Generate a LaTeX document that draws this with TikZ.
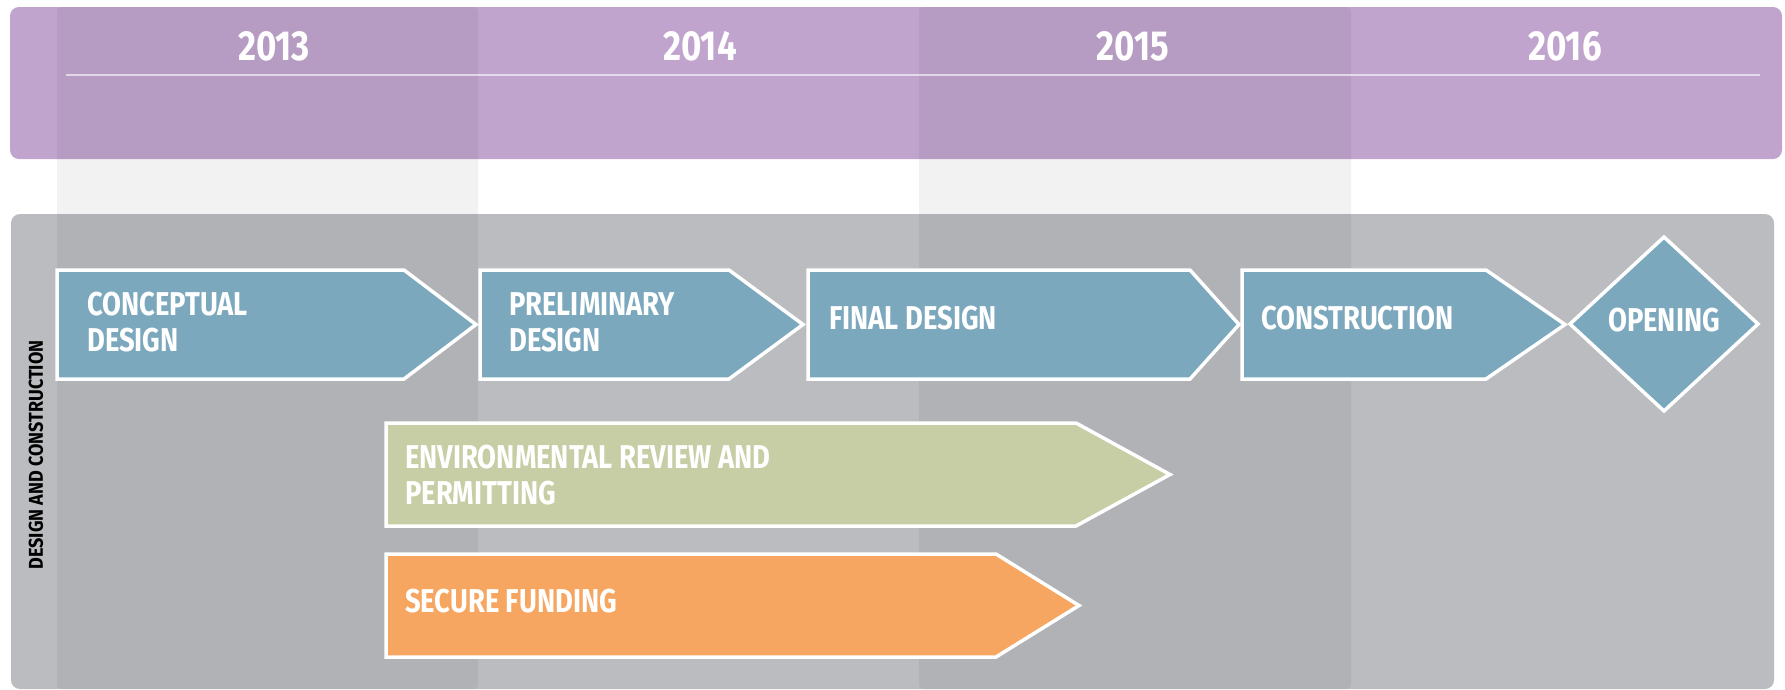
\documentclass[tikz,border=0pt]{standalone}
\usepackage{fontspec}
\newfontfamily\labfont{Fira Sans}[FakeStretch=0.83]
\newfontfamily\sidefont{Fira Sans}[FakeStretch=0.9]
\usetikzlibrary{calc}
\definecolor{purp}{HTML}{C0A4CD}
\definecolor{grayband}{HTML}{BBBCBF}
\definecolor{stepblue}{HTML}{7BA8BD}
\definecolor{envgreen}{HTML}{C7CDA4}
\definecolor{fundorange}{HTML}{F6A660}
\tikzset{
  x=1pt,y=-1pt,
  shapeline/.style={draw=white,line width=3.5pt,line join=miter},
  steplabel/.style={text=white,font=\labfont\bfseries\fontsize{33}{36}\selectfont,align=left,anchor=west,inner sep=0pt},
  yearlabel/.style={text=white,font=\labfont\bfseries\fontsize{42}{44}\selectfont,inner sep=0pt},
  colshade/.style={fill=black,fill opacity=0.05,rounded corners=4pt}
}
\newcommand\mychev[6]{% x1, xbody, xtip, ytop, ybot, colour
  \fill[#6] (#1,#4) -- (#2,#4) -- (#3,{(#4+#5)/2}) -- (#2,#5) -- (#1,#5) -- cycle;
  \draw[shapeline] (#1,#4) -- (#2,#4) -- (#3,{(#4+#5)/2}) -- (#2,#5) -- (#1,#5) -- cycle;
}
\begin{document}
\begin{tikzpicture}
\useasboundingbox (0,0) rectangle (1785,689);
\fill[white] (0,0) rectangle (1785,689);
% bands
\fill[purp,rounded corners=9pt] (10,7) rectangle (1782,159);
\fill[grayband,rounded corners=9pt] (11,214) rectangle (1774,689);
% year columns
\fill[colshade] (57,7) rectangle (478,689);
\fill[colshade] (919,7) rectangle (1351,689);
% year rule
\draw[white,opacity=0.6,line width=1.8pt] (66,75) -- (1760,75);
% years
\node[yearlabel] (y13) at (274,46) {2013};
\node[yearlabel] (y14) at (700,46) {2014};
\node[yearlabel] (y15) at (1133,46) {2015};
\node[yearlabel] (y16) at (1565,46) {2016};
% side label
\node[rotate=90,font=\sidefont\bfseries\fontsize{20}{21}\selectfont,text=black,inner sep=0pt] (side) at (36,455) {DESIGN AND CONSTRUCTION};
% chevrons
\mychev{57}{404}{476}{270}{379}{stepblue}
\mychev{480}{729}{803}{270}{379}{stepblue}
\mychev{808}{1190}{1239}{270}{379}{stepblue}
\mychev{1242}{1486}{1565}{270}{379}{stepblue}
\fill[stepblue] (1570,324) -- (1664,237) -- (1758,324) -- (1664,411) -- cycle;
\draw[shapeline] (1570,324) -- (1664,237) -- (1758,324) -- (1664,411) -- cycle;
\mychev{386}{1076}{1170}{423}{526}{envgreen}
\mychev{386}{996}{1079}{554}{657}{fundorange}
% labels
\node[steplabel] (concept) at (87,322) {CONCEPTUAL\\DESIGN};
\node[steplabel] (prelim) at (509,322) {PRELIMINARY\\DESIGN};
\node[steplabel] (final) at (829,318) {FINAL DESIGN};
\node[steplabel] (constr) at (1261,318) {CONSTRUCTION};
\node[steplabel,anchor=center] (open) at (1664,320) {OPENING};
\node[steplabel] (env) at (405,475) {ENVIRONMENTAL REVIEW AND\\PERMITTING};
\node[steplabel] (fund) at (405,601) {SECURE FUNDING};
\end{tikzpicture}
\end{document}
